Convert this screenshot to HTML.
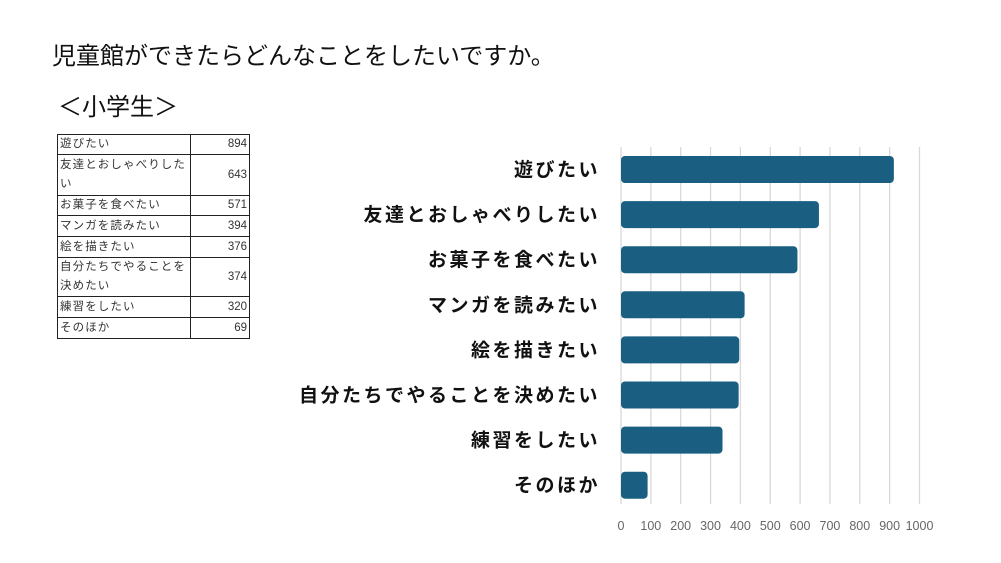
<!DOCTYPE html>
<html><head><meta charset="utf-8"><style>
body{margin:0;width:1001px;height:563px;background:#fff;font-family:"Liberation Sans","Noto Sans CJK JP",sans-serif;position:relative;overflow:hidden}
.t{position:absolute;color:#111}
table{position:absolute;left:57px;top:134px;border-collapse:collapse;font-size:11.5px;color:#333;table-layout:fixed;width:192px}
td{border:1.5px solid #222;padding:0 2px;line-height:19px;vertical-align:middle;overflow:hidden}
td.n{text-align:right;width:54px;letter-spacing:0}
td.l{width:128px;letter-spacing:1.1px;word-break:break-all}
</style></head><body>
<div class="t" style="left:52px;top:36px;font-size:24px">児童館ができたらどんなことをしたいですか。</div>
<div class="t" style="left:58px;top:87px;font-size:24px">＜小学生＞</div>
<table>
<tr style="height:20px"><td class="l">遊びたい</td><td class="n">894</td></tr>
<tr style="height:41px"><td class="l">友達とおしゃべりしたい</td><td class="n">643</td></tr>
<tr style="height:20px"><td class="l">お菓子を食べたい</td><td class="n">571</td></tr>
<tr style="height:21px"><td class="l">マンガを読みたい</td><td class="n">394</td></tr>
<tr style="height:21px"><td class="l">絵を描きたい</td><td class="n">376</td></tr>
<tr style="height:39px"><td class="l">自分たちでやることを決めたい</td><td class="n">374</td></tr>
<tr style="height:21px"><td class="l">練習をしたい</td><td class="n">320</td></tr>
<tr style="height:21px"><td class="l">そのほか</td><td class="n">69</td></tr>
</table>
<svg id="c" width="1001" height="563" style="position:absolute;left:0;top:0"></svg>
<script>
const categories=["遊びたい","友達とおしゃべりしたい","お菓子を食べたい","マンガを読みたい","絵を描きたい","自分たちでやることを決めたい","練習をしたい","そのほか"];
const values=[894,643,571,394,376,374,320,69];
const ticks=[0,100,200,300,400,500,600,700,800,900,1000];
const svg=document.getElementById('c');const NS='http://www.w3.org/2000/svg';
const x=v=>621+v*0.2985;const y=i=>156+i*45.1;
function mk(t,a){const e=document.createElementNS(NS,t);for(const k in a)e.setAttribute(k,a[k]);svg.appendChild(e);return e;}
ticks.forEach(v=>{
const g=mk('line',{x1:x(v),x2:x(v),y1:147,y2:504,stroke:'#d9d9d9','stroke-width':1.3});


const t=mk('text',{x:x(v),y:530,'text-anchor':'middle','font-size':12.5,fill:'#666','font-family':'Liberation Sans, sans-serif'});t.textContent=v;


});
categories.forEach((c,i)=>{
const b=mk('rect',{x:x(0),y:y(i),width:x(values[i])-x(0)+6,height:27,rx:4,fill:'#1a5e82'});


const l=mk('text',{x:600,y:y(i)+20,'text-anchor':'end','font-size':19,'font-weight':'bold',fill:'#111','letter-spacing':2.5,'font-family':'Liberation Sans, Noto Sans CJK JP, sans-serif'});l.textContent=c;


});
</script>
</body></html>
